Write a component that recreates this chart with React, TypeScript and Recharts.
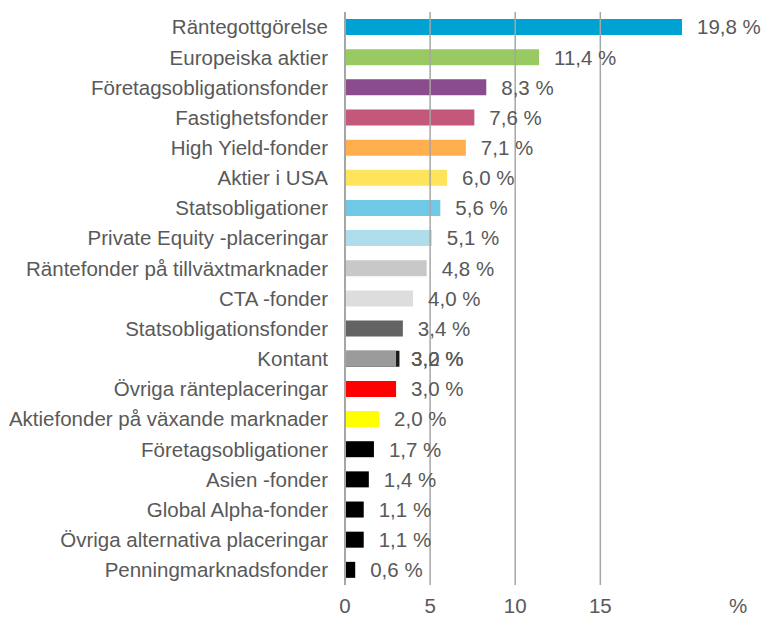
import React from "react";
import { BarChart, Bar, XAxis, YAxis, ReferenceLine, LabelList, Cell } from "recharts";

const categories = [
  "Räntegottgörelse",
  "Europeiska aktier",
  "Företagsobligationsfonder",
  "Fastighetsfonder",
  "High Yield-fonder",
  "Aktier i USA",
  "Statsobligationer",
  "Private Equity -placeringar",
  "Räntefonder på tillväxtmarknader",
  "CTA -fonder",
  "Statsobligationsfonder",
  "Kontant",
  "Övriga ränteplaceringar",
  "Aktiefonder på växande marknader",
  "Företagsobligationer",
  "Asien -fonder",
  "Global Alpha-fonder",
  "Övriga alternativa placeringar",
  "Penningmarknadsfonder",
];

const values = [19.8, 11.4, 8.3, 7.6, 7.1, 6.0, 5.6, 5.1, 4.8, 4.0, 3.4, 3.0, 3.0, 2.0, 1.7, 1.4, 1.1, 1.1, 0.6];

// underlying second bar (only Kontant has one)
const backValues: (number | null)[] = [null, null, null, null, null, null, null, null, null, null, null, 3.2, null, null, null, null, null, null, null];

const colors = [
  "#00A2D3",
  "#99CA62",
  "#8A4C8C",
  "#C4587B",
  "#FFAF4D",
  "#FFE35A",
  "#6FC8E5",
  "#AEDEEB",
  "#C8C8C8",
  "#DDDDDD",
  "#636363",
  "#9B9B9B",
  "#FF0000",
  "#FFFF00",
  "#000000",
  "#000000",
  "#000000",
  "#000000",
  "#000000",
];

const xTicks = [0, 5, 10, 15, 23.1];
const xTickLabels = ["0", "5", "10", "15", "%"];
const gridValues = [0, 5, 10, 15];

const data = categories.map((name, i) => ({
  name,
  value: values[i],
  back: backValues[i],
}));

const FONT = "'Liberation Sans', Arial, Helvetica, sans-serif";
const FS = 20.5;
const fmt = (v: number) => v.toFixed(1).replace(".", ",") + " %";

const ValueLabel = (props: any) => {
  const { x, y, width, height, index } = props;
  const v = values[index];
  const b = backValues[index];
  const tx = x + width + 15;
  const ty = y + height / 2;
  return (
    <g>
      {b != null && (
        <text x={tx} y={ty} dy="0.36em" fill="#595959" fontSize={FS} fontFamily={FONT} textAnchor="start">
          {fmt(b)}
        </text>
      )}
      <text x={tx} y={ty} dy="0.36em" fill="#595959" fontSize={FS} fontFamily={FONT} textAnchor="start">
        {fmt(v)}
      </text>
    </g>
  );
};

export default function App() {
  return (
    <div style={{ position: "absolute", left: 0, top: 0, width: 762, height: 618, background: "#fff" }}>
      <BarChart
        width={762}
        height={618}
        data={data}
        layout="vertical"
        margin={{ top: 12, right: 0, bottom: 0, left: 0 }}
        barSize={16}
        barGap={-16}
      >
        <XAxis
          type="number"
          domain={[0, 24.5]}
          ticks={xTicks}
          tickFormatter={(v: number) => xTickLabels[xTicks.indexOf(v)] ?? String(v)}
          axisLine={false}
          tickLine={false}
          height={33}
          tickMargin={7}
          tick={{ fill: "#595959", fontSize: FS, fontFamily: FONT }}
          interval={0}
        />
        <YAxis
          type="category"
          dataKey="name"
          width={345}
          axisLine={{ stroke: "#A6A6A6", strokeWidth: 2 }}
          tickLine={false}
          tickMargin={11}
          interval={0}
          tick={{ fill: "#595959", fontSize: FS, fontFamily: FONT }}
        />
        {gridValues.map((g) => (
          <ReferenceLine key={g} x={g} stroke="#A6A6A6" strokeWidth={g === 0 ? 2 : 1.5} ifOverflow="extendDomain" />
        ))}
        <Bar dataKey="back" fill="#1A1A1A" isAnimationActive={false} />
        <Bar dataKey="value" isAnimationActive={false}>
          {data.map((d, i) => (
            <Cell key={d.name} fill={colors[i]} />
          ))}
          <LabelList dataKey="value" content={ValueLabel} />
        </Bar>
      </BarChart>
    </div>
  );
}
